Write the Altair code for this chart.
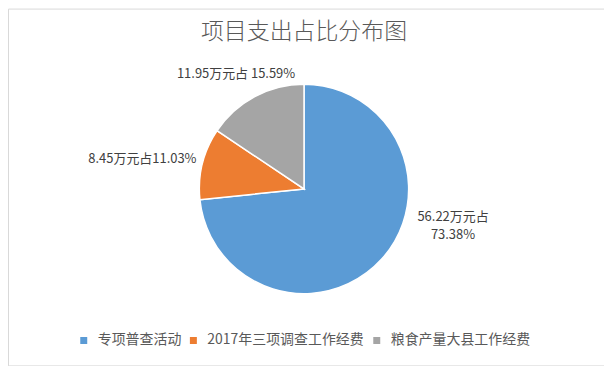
import altair as alt
import pandas as pd

title_text = "项目支出占比分布图"
categories = ["专项普查活动", "2017年三项调查工作经费", "粮食产量大县工作经费"]
amounts = [56.22, 8.45, 11.95]
labels = ["56.22万元占\n73.38%", "8.45万元占11.03%", "11.95万元占 15.59%"]
colors = ["#5B9BD5", "#ED7D31", "#A5A5A5"]

df = pd.DataFrame({
    "idx": list(range(len(categories))),
    "cat": categories,
    "amount": amounts,
    "label": labels,
})

FONT = "Noto Sans CJK SC"
CX, CY = 297, 181

base = alt.Chart(df)

pie = base.mark_arc(outerRadius=105, stroke="white", strokeWidth=1.5).encode(
    theta=alt.Theta("amount:Q", stack=True),
    order=alt.Order("idx:Q"),
    color=alt.Color(
        "cat:N",
        scale=alt.Scale(domain=categories, range=colors),
        sort=categories,
        legend=alt.Legend(
            title=None,
            orient="none",
            direction="horizontal",
            legendX=69,
            legendY=326,
            symbolType="square",
            symbolSize=49,
            symbolStrokeWidth=0,
            labelFont=FONT,
            labelFontSize=14,
            labelColor="#595959",
            labelOffset=7,
            labelLimit=400,
            columnPadding=5,
        ),
    ),
    x=alt.value(CX),
    y=alt.value(CY),
)

lab_base = (
    base.transform_window(cum="sum(amount)", sort=[alt.SortField("idx")], frame=[None, 0])
    .transform_joinaggregate(total="sum(amount)")
    .transform_calculate(ang="2*PI*(datum.cum - datum.amount/2)/datum.total")
)


def label_layer(i, dx, dy):
    return lab_base.transform_filter(alt.datum.idx == i).mark_text(
        radius=130, dx=dx, dy=dy, font=FONT, fontSize=13, color="#404040",
        lineBreak="\n", lineHeight=18, align="center", baseline="middle",
    ).encode(
        theta=alt.Theta("ang:Q", scale=None),
        text="label:N",
        x=alt.value(CX),
        y=alt.value(CY),
    )


t0 = label_layer(0, 53, -59)
t1 = label_layer(1, -36, 1)
t2 = label_layer(2, -7, -1)

title = alt.Chart(pd.DataFrame({"t": [title_text]})).mark_text(
    font=FONT, fontSize=23, fontWeight=300, color="#595959", align="center", baseline="middle"
).encode(text="t:N", x=alt.value(CX), y=alt.value(24))

chart = (
    alt.layer(pie, t0, t1, t2, title)
    .properties(width=598, height=358, padding=0, autosize="none")
    .configure_view(stroke="#d9d9d9", strokeWidth=1)
)

chart.save("out.html", embed_options={"renderer": "svg", "actions": False})
